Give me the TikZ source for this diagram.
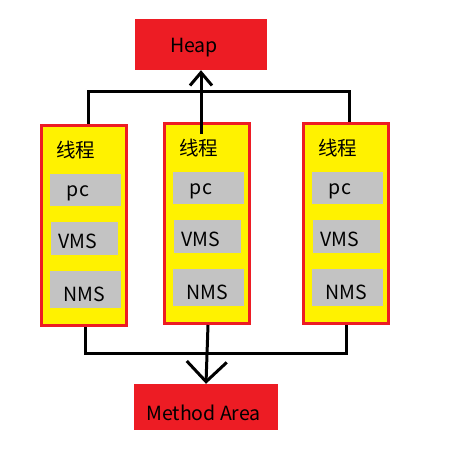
\documentclass[tikz,border=0pt]{standalone}
\usepackage{fontspec}
\setmainfont{Noto Sans CJK SC}
\usetikzlibrary{arrows.meta}
\definecolor{paintred}{HTML}{ED1C24}
\definecolor{paintyellow}{HTML}{FFF200}
\definecolor{paintgrey}{HTML}{C3C3C3}
\begin{document}
\begin{tikzpicture}[x=1pt,y=-1pt,
                     thread/.style={draw=paintred,fill=paintyellow,line width=3pt,
                                    minimum width=85pt,minimum height=200pt,inner sep=0pt},
                     reg/.style={fill=paintgrey,inner sep=0pt},
                     area/.style={fill=paintred,inner sep=0pt},
                     txt/.style={font=\fontsize{19.5}{21}\selectfont},
                     wire/.style={line width=3pt}]
                     \useasboundingbox (0,0) rectangle (451,457);
                     \node[area,minimum width=132pt,minimum height=51pt,
                           label={[txt,xshift=-7pt,yshift=-3.5pt]center:Heap}] (heap) at (201,44.5) {};
                     \node[area,minimum width=144pt,minimum height=46pt,
                           label={[txt,xshift=-2.5pt,yshift=-6pt]center:Method Area}] (method) at (206,407) {};
                     \foreach \n/\x/\y in {1/84/225.5,2/207/223.5,3/346/223.5}{
                       \node[thread,label={[txt,xshift=-8.5pt,yshift=75pt]center:线程}] (t\n) at (\x,\y) {};
                       \node[reg,minimum width=71pt,minimum height=32pt,
                             label={[txt,xshift=-7.5pt,yshift=-3pt]center:pc}] (pc\n) at ([shift={(1.5,-35.5)}]t\n.center) {};
                       \node[reg,minimum width=67pt,minimum height=33pt,
                             label={[txt,xshift=-6.5pt,yshift=-2.5pt]center:VMS}] (vms\n) at ([shift={(0.5,13)}]t\n.center) {};
                       \node[reg,minimum width=71pt,minimum height=37pt,
                             label={[txt,xshift=-1pt,yshift=-4.5pt]center:NMS}] (nms\n) at ([shift={(1.5,64)}]t\n.center) {};
                     }
                     \coordinate (bustop) at (0,92);
                     \coordinate (busbot) at (0,353);
                     \draw[wire] ([xshift=4pt]t1.north) |- ([xshift=3pt]t3.north |- bustop) -- ([xshift=3pt]t3.north);
                     \draw[wire,-{Straight Barb[length=13pt,width=22pt]}] ([shift={(-6pt,-12pt)}]t2.north) -- (heap.south);
                     \draw[wire] ([xshift=1pt]t1.south) |- (t3.south |- busbot) -- (t3.south);
                     \draw[wire,-{Straight Barb[length=20pt,width=40pt]}] ([xshift=1pt]t2.south) -- (method.north);
                   \end{tikzpicture}
\end{document}
